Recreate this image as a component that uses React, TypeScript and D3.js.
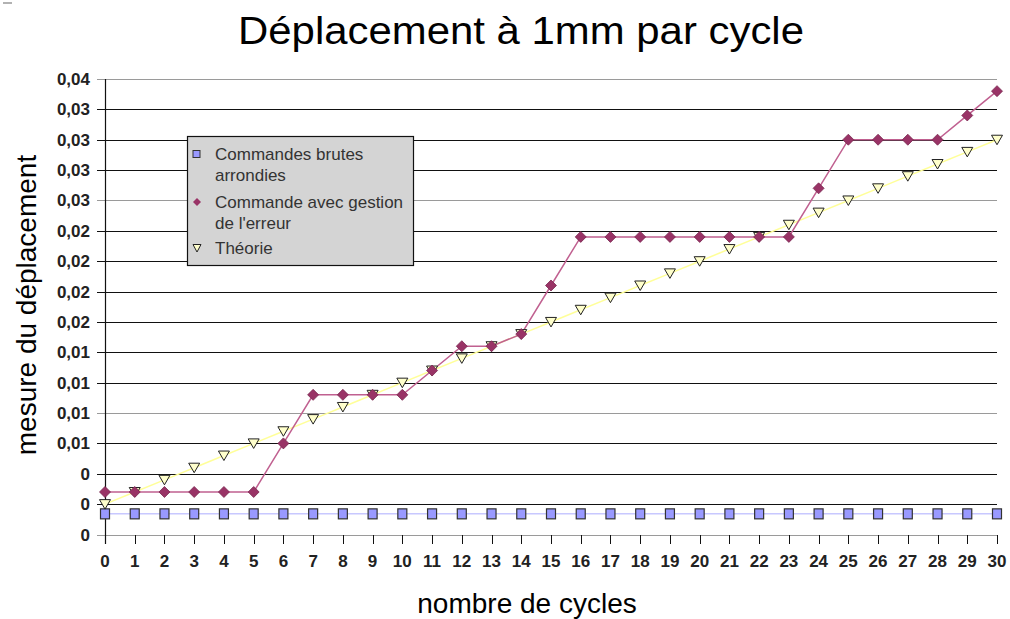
import React, { useEffect, useRef } from 'react';
import * as d3 from 'd3';

// values
const cycles = d3.range(0, 31);
const brutes = [
  0.0017, 0.0017, 0.0017, 0.0017, 0.0017, 0.0017, 0.0017, 0.0017, 0.0017, 0.0017, 0.0017,
  0.0017, 0.0017, 0.0017, 0.0017, 0.0017, 0.0017, 0.0017, 0.0017, 0.0017, 0.0017,
  0.0017, 0.0017, 0.0017, 0.0017, 0.0017, 0.0017, 0.0017, 0.0017, 0.0017, 0.0017,
];
const avecGestion = [
  0.0035, 0.0035, 0.0035, 0.0035, 0.0035, 0.0035, 0.0075, 0.0115, 0.0115, 0.0115, 0.0115,
  0.0135, 0.0155, 0.0155, 0.0165, 0.0205, 0.0245, 0.0245, 0.0245, 0.0245, 0.0245,
  0.0245, 0.0245, 0.0245, 0.0285, 0.0325, 0.0325, 0.0325, 0.0325, 0.0345, 0.0365,
];
const theorie = [
  0.0025, 0.0035, 0.0045, 0.0055, 0.0065, 0.0075, 0.0085, 0.0095, 0.0105, 0.0115, 0.0125,
  0.0135, 0.0145, 0.0155, 0.0165, 0.0175, 0.0185, 0.0195, 0.0205, 0.0215, 0.0225,
  0.0235, 0.0245, 0.0255, 0.0265, 0.0275, 0.0285, 0.0295, 0.0305, 0.0315, 0.0325,
];
const yTicks = [0, 0.0025, 0.005, 0.0075, 0.01, 0.0125, 0.015, 0.0175, 0.02, 0.0225, 0.025, 0.0275, 0.03, 0.0325, 0.035, 0.0375];
const yTickLabels = ['0', '0', '0', '0,01', '0,01', '0,01', '0,01', '0,02', '0,02', '0,02', '0,02', '0,03', '0,03', '0,03', '0,03', '0,04'];
const legendLabels = [['Commandes brutes', 'arrondies'], ['Commande avec gestion', "de l'erreur"], ['Théorie']];

const FONT = 'Liberation Sans, Arial, sans-serif';

const App = () => {
  const svgRef = useRef(null);

  useEffect(() => {
    const svg = d3.select(svgRef.current);
    svg.selectAll('*').remove();

    const x = d3.scaleLinear().domain([0, 30]).range([105, 997]);
    const y = d3.scaleLinear().domain([0, 0.0375]).range([534.5, 79]);

    // small artifact top-left
    svg.append('line').attr('x1', 3).attr('x2', 12).attr('y1', 3).attr('y2', 3)
      .attr('stroke', '#999').attr('stroke-width', 1.5);

    // title (the original is a bit wider than Arial)
    svg.append('text')
      .attr('x', 238).attr('y', 44)
      .attr('textLength', 566)
      .attr('lengthAdjust', 'spacingAndGlyphs')
      .style('font-family', FONT)
      .style('font-size', '38px')
      .text('Déplacement à 1mm par cycle');

    // gridlines (a few look lighter in the original)
    const lighter = new Set([0, 0.01, 0.0275, 0.0375]);
    svg.append('g').selectAll('line')
      .data(yTicks)
      .enter()
      .append('line')
      .attr('x1', 97).attr('x2', 997)
      .attr('y1', d => Math.round(y(d)) + 0.5)
      .attr('y2', d => Math.round(y(d)) + 0.5)
      .attr('stroke', d => (lighter.has(d) ? '#9a9a9a' : '#111'))
      .attr('stroke-width', 1.2);

    // y axis line
    svg.append('line')
      .attr('x1', 105.5).attr('x2', 105.5)
      .attr('y1', y(0.0375)).attr('y2', 544)
      .attr('stroke', '#111').attr('stroke-width', 1.2);

    // y tick labels
    svg.append('g').selectAll('text')
      .data(yTicks)
      .enter()
      .append('text')
      .attr('x', 90)
      .attr('y', d => y(d) + 6)
      .attr('text-anchor', 'end')
      .style('font-family', FONT)
      .style('font-size', '17px')
      .style('font-weight', 'bold')
      .style('fill', '#222')
      .text((d, i) => yTickLabels[i]);

    // x ticks + labels
    const xg = svg.append('g');
    xg.selectAll('line')
      .data(cycles)
      .enter()
      .append('line')
      .attr('x1', d => Math.round(x(d)) + 0.5)
      .attr('x2', d => Math.round(x(d)) + 0.5)
      .attr('y1', 535).attr('y2', 544)
      .attr('stroke', '#111');
    xg.selectAll('text')
      .data(cycles)
      .enter()
      .append('text')
      .attr('x', d => x(d))
      .attr('y', 567)
      .attr('text-anchor', 'middle')
      .style('font-family', FONT)
      .style('font-size', '17px')
      .style('font-weight', 'bold')
      .style('fill', '#222')
      .text(d => d);

    // axis titles
    svg.append('text')
      .attr('transform', 'translate(36,305) rotate(-90)')
      .attr('text-anchor', 'middle')
      .style('font-family', FONT)
      .style('font-size', '28px')
      .text('mesure du déplacement');
    svg.append('text')
      .attr('x', 527).attr('y', 613)
      .attr('text-anchor', 'middle')
      .style('font-family', FONT)
      .style('font-size', '28px')
      .text('nombre de cycles');

    const line = d3.line<number>().x((d, i) => x(cycles[i])).y(d => y(d));

    // series lines
    svg.append('path').datum(brutes).attr('d', line)
      .attr('fill', 'none').attr('stroke', '#c8c8ff').attr('stroke-width', 1.5);
    svg.append('path').datum(theorie).attr('d', line)
      .attr('fill', 'none').attr('stroke', '#ffff99').attr('stroke-width', 1.5);
    svg.append('path').datum(avecGestion).attr('d', line)
      .attr('fill', 'none').attr('stroke', '#c06090').attr('stroke-width', 1.5);

    // markers
    svg.append('g').selectAll('rect')
      .data(brutes)
      .enter()
      .append('rect')
      .attr('x', (d, i) => x(cycles[i]) - 4.5)
      .attr('y', d => y(d) - 5)
      .attr('width', 9).attr('height', 10)
      .attr('fill', '#9999ff').attr('stroke', '#333').attr('stroke-width', 1.2);

    const tri = 'M-5.5,-4.5 L5.5,-4.5 L0,5 Z';
    svg.append('g').selectAll('path')
      .data(theorie)
      .enter()
      .append('path')
      .attr('transform', (d, i) => `translate(${x(cycles[i])},${y(d)})`)
      .attr('d', tri)
      .attr('fill', '#ffffcc').attr('stroke', '#222').attr('stroke-width', 1);

    const diamond = 'M0,-5.5 L5.5,0 L0,5.5 L-5.5,0 Z';
    svg.append('g').selectAll('path')
      .data(avecGestion)
      .enter()
      .append('path')
      .attr('transform', (d, i) => `translate(${x(cycles[i])},${y(d)})`)
      .attr('d', diamond)
      .attr('fill', '#993366').attr('stroke', '#7a2850').attr('stroke-width', 0.8);

    // legend
    const lg = svg.append('g').attr('transform', 'translate(187,136)');
    lg.append('rect').attr('x', 0.5).attr('y', 0.5).attr('width', 226).attr('height', 129)
      .attr('fill', '#d4d4d4').attr('stroke', '#111').attr('stroke-width', 1.2);
    const rowY = [18, 66, 112];
    lg.append('rect').attr('x', 6).attr('y', rowY[0] - 3.5).attr('width', 7).attr('height', 7)
      .attr('fill', '#9999ff').attr('stroke', '#333');
    lg.append('path').attr('transform', `translate(10,${rowY[1]})`)
      .attr('d', 'M0,-4 L4,0 L0,4 L-4,0 Z').attr('fill', '#993366');
    lg.append('path').attr('transform', `translate(10,${rowY[2]})`)
      .attr('d', 'M-4,-3.5 L4,-3.5 L0,4 Z').attr('fill', '#ffffcc').attr('stroke', '#222');
    legendLabels.forEach((lines, i) => {
      lines.forEach((t, j) => {
        lg.append('text')
          .attr('x', 28)
          .attr('y', rowY[i] + 6 + j * 21)
          .style('font-family', FONT)
          .style('font-size', '17px')
          .style('fill', '#333')
          .text(t);
      });
    });
  }, []);

  return (
    <svg ref={svgRef} width={1010} height={619}
      style={{ position: 'absolute', left: 0, top: 0, background: '#fff' }}></svg>
  );
};

export default App;
